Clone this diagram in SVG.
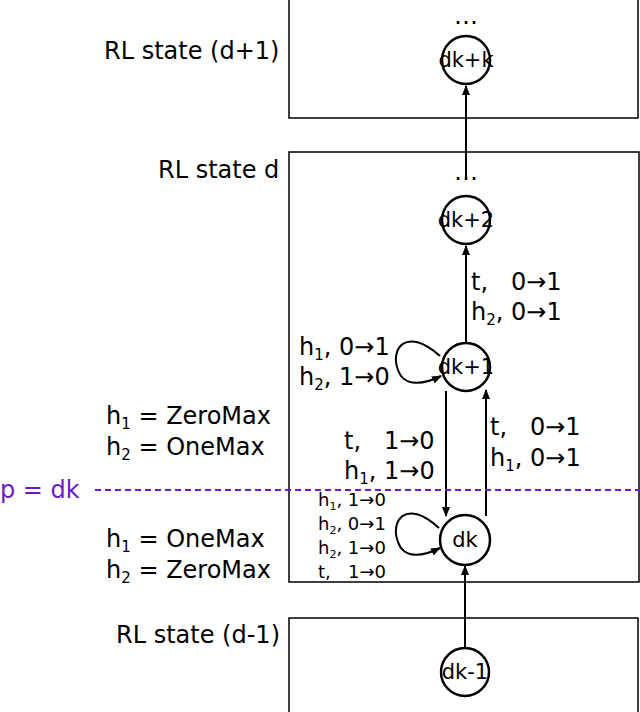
<svg xmlns="http://www.w3.org/2000/svg" width="640" height="712" viewBox="0 0 640 712">
<style>
text{font-family:"DejaVu Sans",sans-serif;font-size:24px;fill:#000;white-space:pre}
.s{font-size:18px}
.n{font-size:21px}
.box{fill:none;stroke:#000;stroke-width:1.5}
circle{fill:#fff;stroke:#000;stroke-width:2.5}
.c{fill:none;stroke:#000;stroke-width:2}
</style>
<defs><marker id="a" viewBox="0 0 10 10" refX="9" refY="5" markerWidth="5" markerHeight="5" orient="auto"><path d="M0,1L10,5L0,9z"/></marker></defs>
<rect class="box" x="289" y="-2" width="349" height="120"/>
<rect class="box" x="289" y="152" width="350" height="430"/>
<rect class="box" x="289" y="618" width="349" height="100"/>
<text x="104" y="59">RL state (d+1)</text>
<text x="158" y="178">RL state d</text>
<text x="116" y="643">RL state (d-1)</text>
<text x="466" y="24" text-anchor="middle">…</text>
<text x="466" y="180" text-anchor="middle">…</text>
<g id="connectors">
<line class="c" x1="466" y1="180" x2="466" y2="86" marker-end="url(#a)"/>
<line class="c" x1="466" y1="343" x2="466" y2="246" marker-end="url(#a)"/>
<line class="c" x1="446" y1="391" x2="446" y2="516" marker-end="url(#a)"/>
<line class="c" x1="486" y1="516" x2="486" y2="390" stroke-width="1.5" marker-end="url(#a)"/>
<line class="c" x1="465" y1="648" x2="465" y2="566" marker-end="url(#a)"/>
<path class="c" d="M440,356 C405,325 390,350 398,370 C404,388 425,384 441,376" marker-end="url(#a)"/>
<path class="c" d="M439,528 C405,497 390,522 398,542 C404,560 424,556 440,548" marker-end="url(#a)"/>
<line x1="95" y1="490" x2="640" y2="490" stroke="#6a1bc8" stroke-width="2" stroke-dasharray="6,4"/>
</g>
<g id="n-dkk"><circle cx="466" cy="60" r="24"/><text class="n" x="466" y="67" text-anchor="middle">dk+k</text></g>
<g id="n-dk2"><circle cx="466" cy="220" r="24"/><text class="n" x="466" y="227" text-anchor="middle">dk+2</text></g>
<g id="n-dk1"><circle cx="466" cy="367" r="24"/><text class="n" x="466" y="374" text-anchor="middle">dk+1</text></g>
<g id="n-dk"><circle cx="465" cy="540" r="25"/><text class="n" x="465" y="547" text-anchor="middle">dk</text></g>
<g id="n-dkm1"><circle cx="465" cy="672" r="24"/><text class="n" x="465" y="679" text-anchor="middle">dk-1</text></g>
<text x="471" y="290">t,   0→1</text>
<text x="471" y="320">h<tspan font-size="15" dy="5">2</tspan><tspan dy="-5">, 0→1</tspan></text>
<text x="299" y="355">h<tspan font-size="15" dy="5">1</tspan><tspan dy="-5">, 0→1</tspan></text>
<text x="299" y="385">h<tspan font-size="15" dy="5">2</tspan><tspan dy="-5">, 1→0</tspan></text>
<text x="106" y="424">h<tspan font-size="15" dy="5">1</tspan><tspan dy="-5"> = ZeroMax</tspan></text>
<text x="106" y="455">h<tspan font-size="15" dy="5">2</tspan><tspan dy="-5"> = OneMax</tspan></text>
<text x="344" y="449">t,   1→0</text>
<text x="344" y="479">h<tspan font-size="15" dy="5">1</tspan><tspan dy="-5">, 1→0</tspan></text>
<text x="490" y="435">t,   0→1</text>
<text x="490" y="466">h<tspan font-size="15" dy="5">1</tspan><tspan dy="-5">, 0→1</tspan></text>
<text x="0" y="498" style="fill:#6a1bc8">p = dk</text>
<text class="s" x="318" y="506">h<tspan font-size="11" dy="4">1</tspan><tspan dy="-4">, 1→0</tspan></text>
<text class="s" x="318" y="530">h<tspan font-size="11" dy="4">2</tspan><tspan dy="-4">, 0→1</tspan></text>
<text class="s" x="318" y="554">h<tspan font-size="11" dy="4">2</tspan><tspan dy="-4">, 1→0</tspan></text>
<text class="s" x="318" y="578">t,   1→0</text>
<text x="106" y="547">h<tspan font-size="15" dy="5">1</tspan><tspan dy="-5"> = OneMax</tspan></text>
<text x="106" y="578">h<tspan font-size="15" dy="5">2</tspan><tspan dy="-5"> = ZeroMax</tspan></text>
</svg>
